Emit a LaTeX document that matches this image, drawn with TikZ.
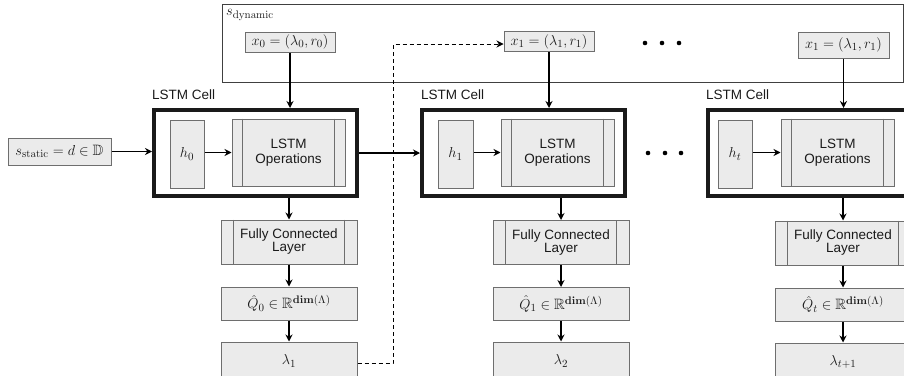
\documentclass[tikz,border=0pt]{standalone}
\usepackage{amsmath,amssymb}
\usepackage[no-math]{fontspec}
\setmainfont{Liberation Sans}
\usetikzlibrary{arrows.meta}
\definecolor{boxfill}{HTML}{EBEBEB}
\definecolor{boxline}{HTML}{6E6E6E}
\definecolor{cellline}{HTML}{1A1A1A}
\definecolor{txt}{HTML}{1A1A1A}
\tikzset{
  box/.style={draw=boxline, fill=boxfill, line width=1pt, inner sep=0pt, text=txt, align=center},
  sideline/.style={draw=boxline, line width=1pt},
  cellbox/.style={draw=cellline, line width=4pt, inner sep=0pt, minimum width=203pt, minimum height=86pt},
  arr/.style={-{Stealth[length=7pt,width=7pt]}, line width=1.2pt, black},
  dasharr/.style={-{Stealth[length=7pt,width=7pt]}, line width=0.9pt, black, dash pattern=on 4pt off 3pt},
  lbl/.style={inner sep=0pt, text=txt, anchor=west},
  mth/.style={font=\fontsize{15}{17}\selectfont},
}
\begin{document}
\begin{tikzpicture}[x=1pt,y=-1pt, font=\fontsize{13.5}{15}\selectfont]
\useasboundingbox (0,0) rectangle (904,375);

% dynamic state box
\node[draw=black!75, line width=1pt, minimum width=681pt, minimum height=78pt, inner sep=0pt] (dyn) at (562.5,43) {};
\node[lbl, mth] (sdyn) at (226,15) {$s_{\mathrm{dynamic}}$};

\node[box, mth, minimum width=90pt, minimum height=20pt] (x0) at (290,42) {$x_0 = (\lambda_0, r_0)$};
\node[box, mth, minimum width=90pt, minimum height=20pt] (x1) at (549,41.5) {$x_1 = (\lambda_1, r_1)$};
\node[box, mth, minimum width=91pt, minimum height=26pt] (x1b) at (843.5,45) {$x_1 = (\lambda_1, r_1)$};

\foreach \xx in {645,662,679} \fill (\xx,43) circle (2.3pt);

% static
\node[box, mth, minimum width=103pt, minimum height=27pt] (sstat) at (59.5,151.5) {$s_{\mathrm{static}} = d \in \mathbb{D}$};

% cells
\node[cellbox] (cell1) at (255.5,153) {};
\node[cellbox] (cell2) at (523.5,153) {};
\node[cellbox] (cell3) at (809.5,153) {};
\node[lbl] (lc1) at (152,95) {LSTM Cell};
\node[lbl] (lc2) at (421,95) {LSTM Cell};
\node[lbl] (lc3) at (706,95) {LSTM Cell};

\node[box, mth, minimum width=34pt, minimum height=68pt] (h0) at (187,154) {$h_0$};
\node[box, mth, minimum width=35pt, minimum height=68pt] (h1) at (455.5,154) {$h_1$};
\node[box, mth, minimum width=34pt, minimum height=68pt] (ht) at (735,154) {$h_t$};

\node[box, minimum width=113pt, minimum height=67pt] (ops1) at (288.5,152.5) {LSTM\\Operations};
\node[box, minimum width=113pt, minimum height=67pt] (ops2) at (557.5,152.5) {LSTM\\Operations};
\node[box, minimum width=113pt, minimum height=67pt] (ops3) at (837.5,152.5) {LSTM\\Operations};
\foreach \n in {ops1,ops2,ops3} {
  \draw[sideline] ([xshift=11pt]\n.north west) -- ([xshift=11pt]\n.south west);
  \draw[sideline] ([xshift=-11pt]\n.north east) -- ([xshift=-11pt]\n.south east);
}

\foreach \xx in {648,665,681} \fill (\xx,153) circle (2.3pt);

% FC layers
\node[box, minimum width=136pt, minimum height=44pt] (fc1) at (289,242) {Fully Connected\\[-2pt]Layer};
\node[box, minimum width=136pt, minimum height=44pt] (fc2) at (561,242.5) {Fully Connected\\[-2pt]Layer};
\node[box, minimum width=136pt, minimum height=44pt] (fc3) at (843,243) {Fully Connected\\[-2pt]Layer};
\foreach \n in {fc1,fc2,fc3} {
  \draw[sideline] ([xshift=13pt]\n.north west) -- ([xshift=13pt]\n.south west);
  \draw[sideline] ([xshift=-13pt]\n.north east) -- ([xshift=-13pt]\n.south east);
}

\node[box, mth, minimum width=136pt, minimum height=33pt] (q0) at (289,303.5) {$\hat{Q}_0 \in \mathbb{R}^{\mathbf{dim}(\Lambda)}$};
\node[box, mth, minimum width=136pt, minimum height=33pt] (q1) at (561,304) {$\hat{Q}_1 \in \mathbb{R}^{\mathbf{dim}(\Lambda)}$};
\node[box, mth, minimum width=136pt, minimum height=33pt] (qt) at (843,304.5) {$\hat{Q}_t \in \mathbb{R}^{\mathbf{dim}(\Lambda)}$};

\node[box, mth, minimum width=136pt, minimum height=38pt] (l1) at (289,361) {$\lambda_1$};
\node[box, mth, minimum width=136pt, minimum height=38pt] (l2) at (561,361) {$\lambda_2$};
\node[box, mth, minimum width=136pt, minimum height=38pt] (lt) at (843,362) {$\lambda_{t+1}$};

% arrows
\draw[arr] (sstat.east) -- (sstat.east -| cell1.west);
\draw[arr] (h0.east |- ops1.west) -- (ops1.west);
\draw[arr] (h1.east |- ops2.west) -- (ops2.west);
\draw[arr] (ht.east |- ops3.west) -- (ops3.west);
\draw[arr] (cell1.east) -- (cell2.west);

\draw[arr] (x0.south) -- (x0.south |- cell1.north);
\draw[arr] (x1.south) -- (x1.south |- cell2.north);
\draw[arr] (x1b.south) -- (x1b.south |- cell3.north);

\draw[arr] (cell1.south -| fc1.north) -- (fc1.north);
\draw[arr] (cell2.south -| fc2.north) -- (fc2.north);
\draw[arr] (cell3.south -| fc3.north) -- (fc3.north);
\draw[arr] (fc1.south) -- (q0.north);
\draw[arr] (fc2.south) -- (q1.north);
\draw[arr] (fc3.south) -- (qt.north);
\draw[arr] (q0.south) -- (l1.north);
\draw[arr] (q1.south) -- (l2.north);
\draw[arr] (qt.south) -- (lt.north);

\coordinate (dc) at (393,0);
\draw[dasharr] ([yshift=-2pt]l1.east) -| ([yshift=-2.5pt]dc |- x1.west) -- ([yshift=-2.5pt]x1.west);
\end{tikzpicture}
\end{document}
